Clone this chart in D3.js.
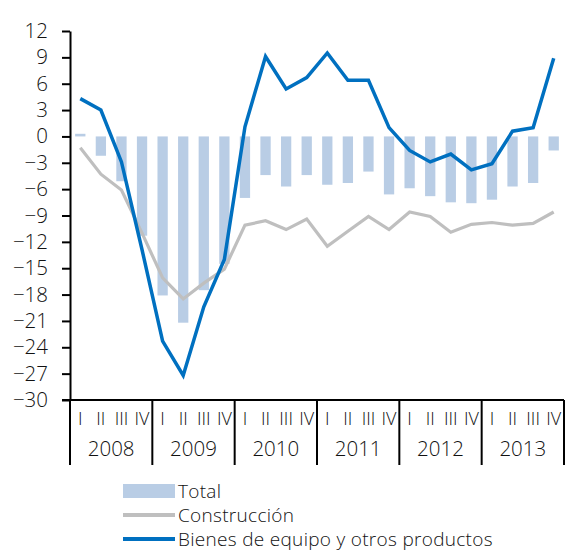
<!DOCTYPE html>
<html>
<head>
<meta charset="utf-8">
<script src="https://cdn.jsdelivr.net/npm/d3@7"></script>
<style>
  html, body { margin: 0; padding: 0; background: #fff; }
  svg text { font-family: "Open Sans", "DejaVu Sans", sans-serif; font-weight: 300; fill: #111; }
</style>
</head>
<body>
<svg id="chart" width="571" height="552"></svg>
<script>
const years = ["2008", "2009", "2010", "2011", "2012", "2013"];
const quarters = ["I", "II", "III", "IV"];
const yTicks = [12, 9, 6, 3, 0, -3, -6, -9, -12, -15, -18, -21, -24, -27, -30];

const total = [0.3, -2.2, -5.1, -11.3, -18.1, -21.2, -17.5, -14.5, -7.0, -4.4, -5.7, -4.4,
               -5.5, -5.3, -4.0, -6.6, -5.9, -6.8, -7.5, -7.6, -7.2, -5.7, -5.3, -1.6];
const construccion = [-1.3, -4.3, -6.1, -11.0, -16.1, -18.5, -16.7, -15.1, -10.1, -9.6, -10.6, -9.4,
                      -12.5, -10.8, -9.1, -10.6, -8.6, -9.1, -10.9, -10.0, -9.8, -10.1, -9.9, -8.6];
const bienes = [4.3, 3.0, -2.9, -12.9, -23.3, -27.2, -19.4, -14.0, 1.1, 9.1, 5.4, 6.7,
                9.5, 6.4, 6.4, 1.0, -1.6, -2.9, -2.0, -3.8, -3.1, 0.6, 1.0, 8.9];
const legendLabels = ["Total", "Construcción", "Bienes de equipo y otros productos"];

const colors = { total: "#b9cde5", constr: "#bfbfbf", bienes: "#0070c0" };

const periods = [];
years.forEach(yv => quarters.forEach(q => periods.push(yv + "-" + q)));

const svg = d3.select("#chart");
const mLeft = 70, mRight = 564, mTop = 31, mBottom = 400;

const x = d3.scaleBand().domain(periods).range([mLeft, mRight]).paddingInner(0.5).paddingOuter(0.25);
const xc = p => x(p) + x.bandwidth() / 2;
const y = d3.scaleLinear().domain([-30, 12]).range([mBottom, mTop]);

// bars
svg.append("g").selectAll("rect").data(total).join("rect")
  .attr("x", (d, i) => x(periods[i]))
  .attr("width", x.bandwidth())
  .attr("y", d => y(Math.max(0, d)))
  .attr("height", d => Math.abs(y(d) - y(0)))
  .attr("fill", colors.total);

// lines
const line = d3.line().x((d, i) => xc(periods[i])).y(d => y(d));
svg.append("path").datum(construccion).attr("d", line)
  .attr("fill", "none").attr("stroke", colors.constr).attr("stroke-width", 3.2);
svg.append("path").datum(bienes).attr("d", line)
  .attr("fill", "none").attr("stroke", colors.bienes).attr("stroke-width", 3.5);

// y axis
const yAxis = d3.axisLeft(y).tickValues(yTicks).tickSize(8).tickSizeOuter(0).tickPadding(14);
const gy = svg.append("g").attr("transform", `translate(${mLeft},0)`).call(yAxis);
gy.select(".domain").attr("stroke", "#000").attr("stroke-width", 2);
gy.selectAll(".tick line").attr("stroke", "#000").attr("stroke-width", 2);
gy.selectAll(".tick text").attr("font-size", 20.5)
  .style("font-family", "'Open Sans', sans-serif").style("font-weight", 300).attr("fill", "#111");

// x axis baseline
const yearScale = d3.scaleBand().domain(years).range([mLeft, mRight]);
svg.append("line").attr("x1", mLeft - 8).attr("x2", mRight).attr("y1", mBottom).attr("y2", mBottom)
  .attr("stroke", "#000").attr("stroke-width", 2);

// year separators
const seps = years.map(yv => yearScale(yv)).concat([mRight]);
svg.append("g").selectAll("line").data(seps).join("line")
  .attr("x1", d => d).attr("x2", d => d).attr("y1", mBottom).attr("y2", 465)
  .attr("stroke", "#000").attr("stroke-width", 2);

// quarter labels
svg.append("g").selectAll("text").data(periods).join("text")
  .attr("x", p => xc(p)).attr("y", 425)
  .attr("text-anchor", "middle").attr("font-size", 18)
  .text(p => p.split("-")[1]);

// year labels
svg.append("g").selectAll("text").data(years).join("text")
  .attr("x", yv => yearScale(yv) + yearScale.bandwidth() / 2).attr("y", 456)
  .attr("text-anchor", "middle").attr("font-size", 20.5)
  .text(d => d);

// legend
const lg = svg.append("g");
const lx = 123, lw = 52, rowY = [491, 515, 539];
lg.append("rect").attr("x", lx).attr("y", rowY[0] - 7).attr("width", lw).attr("height", 14).attr("fill", colors.total);
lg.append("line").attr("x1", lx).attr("x2", lx + lw).attr("y1", rowY[1]).attr("y2", rowY[1])
  .attr("stroke", colors.constr).attr("stroke-width", 4);
lg.append("line").attr("x1", lx).attr("x2", lx + lw).attr("y1", rowY[2]).attr("y2", rowY[2])
  .attr("stroke", colors.bienes).attr("stroke-width", 4);
lg.selectAll("text").data(legendLabels).join("text")
  .attr("x", lx + lw + 3).attr("y", (d, i) => rowY[i] + 7)
  .attr("font-size", 19)
  .attr("letter-spacing", 0.3)
  .text(d => d);
</script>
</body>
</html>
